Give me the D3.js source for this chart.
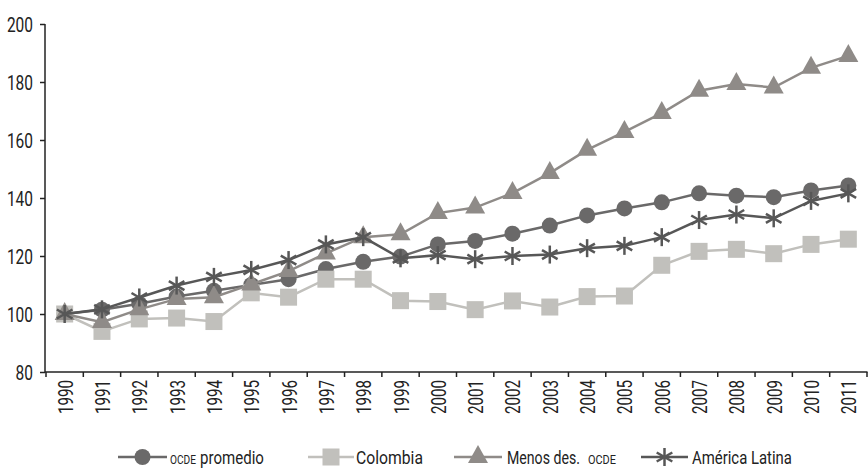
<!DOCTYPE html>
<html><head><meta charset="utf-8">
<script src="https://cdn.jsdelivr.net/npm/d3@7"></script>
<style>
html,body{margin:0;padding:0;background:#fff;}
svg text{font-family:Roboto,"DejaVu Sans",sans-serif;fill:#222;}
</style></head>
<body><svg id="c" width="868" height="471"></svg>
<script>
const years = ["1990","1991","1992","1993","1994","1995","1996","1997","1998","1999","2000","2001","2002","2003","2004","2005","2006","2007","2008","2009","2010","2011"];
const ocdePromedio = [100,101.5,103.5,106,108,110,112,115.5,118,119.8,124,125.2,127.7,130.5,134,136.4,138.5,141.6,140.8,140.3,142.6,144.3];
const colombia = [100,94,98.3,98.6,97.4,107.3,105.8,112,112,104.6,104.3,101.5,104.5,102.4,106,106.2,116.8,121.6,122.3,120.8,124,125.8];
const menosDes = [100,97.2,101.6,105.2,105.8,110.2,114.8,120.9,126.5,127.5,134.8,136.7,141.7,148.6,156.6,162.8,169.3,177,179.3,178.1,184.9,189];
const americaLatina = [100,101.6,105.7,109.8,112.8,115.2,118.6,124,126.5,119.2,120.3,118.9,120,120.5,122.7,123.5,126.5,132.4,134.3,133,139,141.6];
const yTicks = [80,100,120,140,160,180,200];
const seriesNames = ["OCDE promedio","Colombia","Menos des. OCDE","América Latina"];

const series = [
  {name:seriesNames[0], values:ocdePromedio, color:"#6a6969", marker:"circle"},
  {name:seriesNames[1], values:colombia, color:"#c1c0bc", marker:"square"},
  {name:seriesNames[2], values:menosDes, color:"#8f8b88", marker:"triangle"},
  {name:seriesNames[3], values:americaLatina, color:"#575757", marker:"star"}
];

const svg = d3.select("#c");
const x = d3.scaleBand().domain(years).range([46, 867]).padding(0);
const y = d3.scaleLinear().domain([80, 200]).range([372, 24]);
const cx = d => x(d) + x.bandwidth()/2;

// Y axis
const yAxis = svg.append("g").attr("transform","translate(45,0)")
  .call(d3.axisLeft(y).tickValues(yTicks).tickSize(5).tickPadding(7).tickFormat(d3.format("d")));
yAxis.select(".domain").attr("d","M0,"+y(200)+"V"+y(80)).attr("stroke","#222").attr("stroke-width",1.5);
yAxis.selectAll(".tick line").attr("stroke","#222").attr("stroke-width",1.5);
yAxis.selectAll(".tick text").attr("font-size",21).attr("fill","#222")
  .style("font-family",'Roboto,"DejaVu Sans",sans-serif')
  .attr("dy","0.36em")
  .attr("textLength",d=>String(d).length*8.7).attr("lengthAdjust","spacingAndGlyphs");

// X axis
const xg = svg.append("g");
xg.append("line").attr("x1",45).attr("x2",867.5).attr("y1",y(80)).attr("y2",y(80)).attr("stroke","#222").attr("stroke-width",1.5);
const bounds = years.map(d=>x(d)).concat([x(years[years.length-1])+x.bandwidth()]);
xg.selectAll("line.tk").data(bounds).enter().append("line").attr("class","tk")
  .attr("x1",d=>d).attr("x2",d=>d).attr("y1",y(80)).attr("y2",y(80)+5).attr("stroke","#222").attr("stroke-width",1.5);
xg.selectAll("text.yr").data(years).enter().append("text").attr("class","yr")
  .attr("transform",d=>"translate("+(cx(d)+8)+","+(y(80)+8)+") rotate(-90)")
  .attr("text-anchor","end").attr("font-size",20)
  .attr("textLength",34).attr("lengthAdjust","spacingAndGlyphs").text(d=>d);

function drawMarker(g, type, color, px, py, s){
  if(type==="circle"){
    g.append("circle").attr("cx",px).attr("cy",py).attr("r",8*s).attr("fill",color);
  } else if(type==="square"){
    const h=8.5*s;
    g.append("rect").attr("x",px-h).attr("y",py-h).attr("width",2*h).attr("height",2*h).attr("fill",color);
  } else if(type==="triangle"){
    const w=10*s, t=12*s, b=6*s;
    g.append("path").attr("d",`M${px},${py-t}L${px+w},${py+b}L${px-w},${py+b}Z`).attr("fill",color);
  } else {
    const r=9*s;
    [90,30,150].forEach(a=>{
      const rad=a*Math.PI/180, dx=r*Math.cos(rad), dy=r*Math.sin(rad);
      g.append("line").attr("x1",px-dx).attr("y1",py-dy).attr("x2",px+dx).attr("y2",py+dy)
        .attr("stroke",color).attr("stroke-width",2.5);
    });
  }
}

const line = d3.line().x((d,i)=>cx(years[i])).y(d=>y(d));
series.forEach(s=>{
  const g = svg.append("g");
  g.append("path").attr("d",line(s.values)).attr("fill","none").attr("stroke",s.color).attr("stroke-width",2.5);
  s.values.forEach((v,i)=>drawMarker(g, s.marker, s.color, cx(years[i]), y(v), 1));
});

// Legend (each text piece squeezed horizontally to the reference width)
const ly = 457;
const legendItems = [
  {x1:118,x2:167, parts:[{t:"OCDE",x:170,w:26,fs:12.5},{t:"promedio",x:200,w:64,fs:19}]},
  {x1:308,x2:354, parts:[{t:"Colombia",x:356,w:67,fs:19}]},
  {x1:454,x2:502, parts:[{t:"Menos des.",x:507,w:73,fs:19},{t:"OCDE",x:588,w:28,fs:12.5}]},
  {x1:641,x2:688, parts:[{t:"América Latina",x:692,w:100,fs:19}]}
];
series.forEach((s,i)=>{
  const p = legendItems[i];
  const g = svg.append("g");
  g.append("line").attr("x1",p.x1).attr("x2",p.x2).attr("y1",ly).attr("y2",ly).attr("stroke",s.color).attr("stroke-width",2.5);
  drawMarker(g, s.marker, s.color, (p.x1+p.x2)/2, ly, 1);
  p.parts.forEach(q=>{
    const t = g.append("text").attr("font-size",q.fs).text(q.t);
    const nat = t.node().getComputedTextLength() || q.w;
    const sx = q.w / nat;
    t.attr("transform",`translate(${q.x},${ly+7}) scale(${sx},1)`);
  });
});
</script></body></html>
